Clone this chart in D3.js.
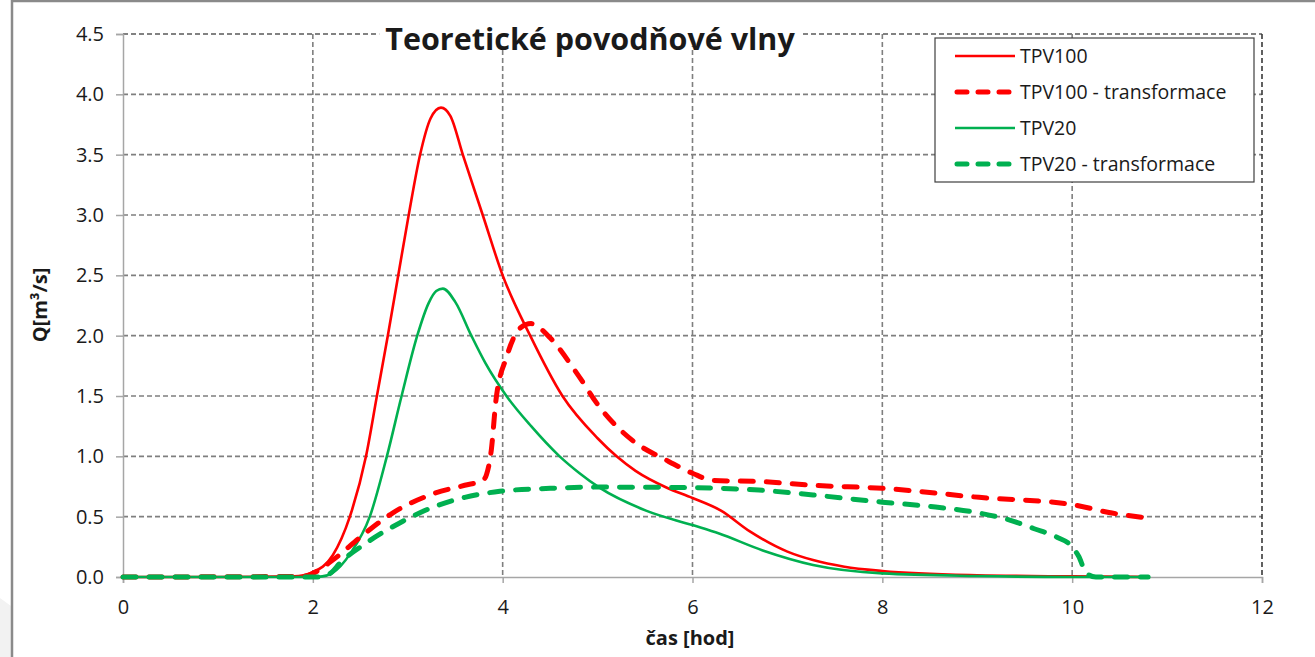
<!DOCTYPE html>
<html>
<head>
<meta charset="utf-8">
<script src="https://cdn.jsdelivr.net/npm/d3@7"></script>
<style>
  html, body { margin: 0; padding: 0; background: #fff; }
  svg { display: block; }
  text { font-family: "Open Sans", "Noto Sans", sans-serif; fill: #1a1a1a; }
</style>
</head>
<body>
<svg id="chart" width="1315" height="657"></svg>
<script>
// ---- data (time in hours, discharge in m3/s) ----
const title = "Teoretické povodňové vlny";
const xTicks = [0, 2, 4, 6, 8, 10, 12];
const yTicks = [0, 0.5, 1.0, 1.5, 2.0, 2.5, 3.0, 3.5, 4.0, 4.5];

const tpv100T = [0, 1.0, 1.8, 2.0, 2.21, 2.39, 2.56, 2.675, 2.79, 2.9, 3.01, 3.13, 3.24, 3.35, 3.45, 3.58, 3.79, 4.0, 4.29, 4.63, 5.0, 5.2, 5.4, 5.73, 6.0, 6.3, 6.6, 7.0, 7.27, 7.6, 8.0, 9.0, 10.0, 10.8];
const tpv100Q = [0, 0, 0.005, 0.04, 0.18, 0.5, 1.0, 1.5, 2.0, 2.5, 3.0, 3.5, 3.8, 3.89, 3.82, 3.5, 3.0, 2.5, 2.0, 1.5, 1.15, 1.0, 0.88, 0.74, 0.655, 0.55, 0.38, 0.21, 0.14, 0.085, 0.05, 0.015, 0.005, 0];

const tpv100trT = [0, 1.9, 2.0, 2.21, 2.53, 2.84, 3.27, 3.6, 3.79, 3.83, 3.88, 3.93, 4.04, 4.18, 4.3, 4.49, 4.78, 5.02, 5.37, 5.72, 6.0, 6.22, 6.74, 7.27, 8.0, 9.02, 10.0, 10.42, 10.78];
const tpv100trQ = [0, 0.005, 0.03, 0.14, 0.35, 0.53, 0.69, 0.76, 0.80, 0.85, 1.05, 1.47, 1.82, 2.06, 2.10, 1.99, 1.69, 1.41, 1.13, 0.97, 0.86, 0.80, 0.79, 0.76, 0.735, 0.66, 0.60, 0.53, 0.49];

const tpv20T = [0, 1.0, 2.0, 2.1, 2.2, 2.4, 2.6, 2.78, 2.935, 3.1, 3.22, 3.3, 3.37, 3.5, 3.67, 3.82, 4.04, 4.3, 4.6, 4.81, 5.02, 5.51, 6.0, 6.28, 6.74, 7.27, 8.0, 9.0, 10.0, 10.8];
const tpv20Q = [0, 0, 0, 0.005, 0.03, 0.2, 0.5, 1.0, 1.5, 2.0, 2.27, 2.37, 2.39, 2.28, 2.0, 1.77, 1.5, 1.25, 1.0, 0.86, 0.74, 0.55, 0.43, 0.36, 0.22, 0.10, 0.03, 0.008, 0, 0];

const tpv20trT = [0, 1.0, 2.1, 2.2, 2.28, 2.56, 2.92, 3.27, 3.6, 3.97, 4.5, 5.02, 6.0, 6.7, 7.27, 8.0, 8.5, 9.02, 9.35, 9.6, 9.84, 10.0, 10.07, 10.15, 10.25, 10.8];
const tpv20trQ = [0, 0, 0, 0.04, 0.11, 0.28, 0.45, 0.58, 0.66, 0.71, 0.735, 0.745, 0.74, 0.72, 0.68, 0.62, 0.585, 0.53, 0.47, 0.40, 0.33, 0.25, 0.17, 0.03, 0, 0];

const seriesNames = ["TPV100", "TPV100 - transformace", "TPV20", "TPV20 - transformace"];
const seriesColors = ["#ff0000", "#ff0000", "#00b050", "#00b050"];
const seriesDashed = [false, true, false, true];

// ---- layout ----
const svg = d3.select("#chart");
const W = 1315, H = 657;
const plot = { left: 123, right: 1262, top: 34, bottom: 577 };

const x = d3.scaleLinear().domain([0, 12]).range([plot.left, plot.right]);
const y = d3.scaleLinear().domain([0, 4.5]).range([plot.bottom, plot.top]);

// outer frame + faint shadow
svg.append("polygon")
  .attr("points", "0,598 11,606 11,657 0,657")
  .attr("fill", "#f2f2f2");
svg.append("line").attr("x1", 12).attr("x2", 12).attr("y1", 0).attr("y2", H)
  .attr("stroke", "#8a8a8a").attr("stroke-width", 2.5);
svg.append("line").attr("x1", 12).attr("x2", W).attr("y1", 1).attr("y2", 1)
  .attr("stroke", "#8a8a8a").attr("stroke-width", 2.5);

// gridlines
const grid = svg.append("g");
yTicks.filter(d => d > 0).forEach(v => {
  grid.append("line")
    .attr("x1", plot.left).attr("x2", plot.right)
    .attr("y1", y(v)).attr("y2", y(v))
    .attr("stroke", v === 4.5 ? "#5a5a5a" : "#7f7f7f")
    .attr("stroke-width", 1.6)
    .attr("stroke-dasharray", "5 3");
});
xTicks.filter(d => d > 0).forEach(v => {
  grid.append("line")
    .attr("x1", x(v)).attr("x2", x(v))
    .attr("y1", plot.top).attr("y2", plot.bottom)
    .attr("stroke", v === 12 ? "#3a3a3a" : "#7f7f7f")
    .attr("stroke-width", 1.6)
    .attr("stroke-dasharray", "5 3");
});

// axes
const yAxis = d3.axisLeft(y).tickValues(yTicks).tickFormat(d3.format(".1f")).tickSize(7).tickPadding(12);
const xAxis = d3.axisBottom(x).tickValues(xTicks).tickFormat(d3.format("d")).tickSize(6).tickPadding(17);

const gy = svg.append("g").attr("transform", `translate(${plot.left},0)`).call(yAxis);
const gx = svg.append("g").attr("transform", `translate(0,${plot.bottom})`).call(xAxis);
[gx, gy].forEach(g => {
  g.attr("font-size", 20).attr("font-family", "'Open Sans', sans-serif");
  g.select(".domain").attr("stroke", "#a6a6a6").attr("stroke-width", 1.5);
  g.selectAll(".tick line").attr("stroke", "#a6a6a6").attr("stroke-width", 1.5);
  g.selectAll(".tick text").attr("fill", "#1a1a1a");
});

// series lines
const series = [
  { t: tpv100T, q: tpv100Q },
  { t: tpv100trT, q: tpv100trQ },
  { t: tpv20T, q: tpv20Q },
  { t: tpv20trT, q: tpv20trQ }
];
const line = d3.line().x(d => x(d[0])).y(d => y(d[1])).curve(d3.curveMonotoneX);
const order = [0, 2, 1, 3];
order.forEach(i => {
  const s = series[i];
  const pts = s.t.map((t, k) => [t, s.q[k]]);
  svg.append("path")
    .datum(pts)
    .attr("d", line)
    .attr("fill", "none")
    .attr("stroke", seriesColors[i])
    .attr("stroke-width", seriesDashed[i] ? 5 : 2.6)
    .attr("stroke-linecap", seriesDashed[i] ? "round" : "butt")
    .attr("stroke-linejoin", "round")
    .attr("stroke-dasharray", seriesDashed[i] ? "13 13" : null);
});

// title with white background
const titleG = svg.append("g");
const titleBg = titleG.append("rect").attr("fill", "#fff");
const tTitle = titleG.append("text")
  .attr("x", 590).attr("y", 50)
  .attr("text-anchor", "middle")
  .attr("font-size", 30.5).attr("font-weight", "bold")
  .text(title);
const bb = tTitle.node().getBBox();
titleBg
  .attr("x", bb.x - 6).attr("y", plot.top - 8).attr("width", bb.width + 12).attr("height", 20);

// axis titles
svg.append("text")
  .attr("transform", `translate(47,305) rotate(-90)`)
  .attr("text-anchor", "middle")
  .attr("font-size", 20).attr("font-weight", "bold")
  .text("Q[m³/s]");
svg.append("text")
  .attr("x", 690).attr("y", 645)
  .attr("text-anchor", "middle")
  .attr("font-size", 20).attr("font-weight", "bold")
  .text("čas [hod]");

// legend
const lg = svg.append("g");
lg.append("rect")
  .attr("x", 935).attr("y", 38).attr("width", 319).attr("height", 144)
  .attr("fill", "#fff").attr("stroke", "#3f3f3f").attr("stroke-width", 1.2);
seriesNames.forEach((name, i) => {
  const cy = 56 + i * 36;
  lg.append("line")
    .attr("x1", seriesDashed[i] ? 957 : 955).attr("x2", seriesDashed[i] ? 1013 : 1015)
    .attr("y1", cy).attr("y2", cy)
    .attr("stroke", seriesColors[i])
    .attr("stroke-width", seriesDashed[i] ? 5 : 2.6)
    .attr("stroke-linecap", seriesDashed[i] ? "round" : "butt")
    .attr("stroke-dasharray", seriesDashed[i] ? "10 11" : null);
  lg.append("text")
    .attr("x", 1020).attr("y", cy + 7)
    .attr("font-size", 19.5)
    .text(name);
});
</script>
</body>
</html>
